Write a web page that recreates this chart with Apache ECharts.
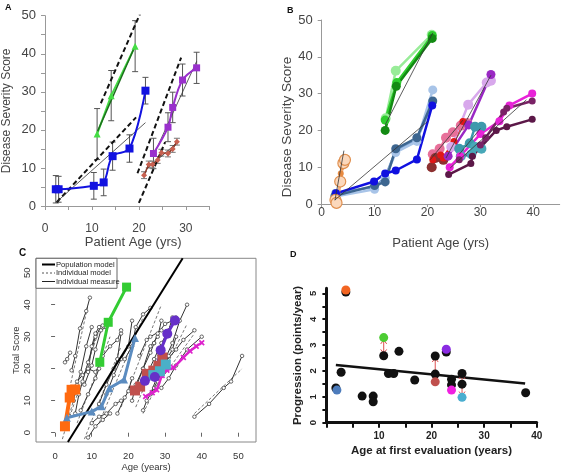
<!DOCTYPE html>
<html><head><meta charset="utf-8">
<script src="https://cdn.jsdelivr.net/npm/echarts@6/dist/echarts.min.js"></script>
<style>html,body{margin:0;padding:0;background:#fff}#c{width:563px;height:473px}</style>
</head><body><div id="c"></div><script>
// ---------- Panel A data ----------
const aBlue = [[2.3,4.4],[2.9,4.4],[10.4,5.3],[12.5,6.2],[14.4,13.1],[18.0,15.1],[21.4,30.3]];
const aBlueErr = [3.6,3.4,3.5,3.5,3.7,3.6,3.5];
const aGreen = [[11.1,18.9],[14.1,29.0],[19.2,42.0]];
const aGreenErr = [6.7,6.6,6.7];
const aPurple = [[23.1,13.8],[26.2,20.7],[27.2,25.9],[29.3,33.1],[32.3,36.3]];
const aPurpleErr = [4.0,3.8,4.0,4.2,4.1];
const aBrown = [[21.1,8.1],[22.1,10.9],[22.9,10.9],[24.0,12.1],[24.8,14.0],[26.2,13.8],[27.2,15.0],[28.1,16.9]];
const aBrownErr = [0.9,0.9,0.9,0.9,0.9,0.9,0.9,0.9];
const aPopModel = [[[2.5,1.0],[19.4,23.3]],[[11.9,27.0],[20.6,51.5]],[[19.7,8.6],[29.0,39.0]],[[20.0,0.8],[25.6,16.8]]];
const aFitLines = [[[2.5,1.1],[21.4,21.9]],[[23.0,13.0],[32.3,38.0]],[[21.5,9.5],[28.0,16.5]]];
const aGreenFit = [[11.2,19.6],[19.0,41.5]];
const aXTicks = [0,10,20,30];
const aYTicks = [0,10,20,30,40,50];

// ---------- Panel B data ----------
const bPeach = [[2.6,1.1],[2.8,0.3],[3.5,6.1],[4.1,11.1],[4.4,12.0]];
const bOrange = [[3.1,0.6],[3.6,8.3],[3.9,10.1],[4.4,12.0]];
const bBlue = [[2.7,2.9],[9.9,6.1],[12.0,8.3],[14.0,9.1],[18.0,12.1],[20.9,26.8]];
const bSteel = [[2.5,2.2],[10.0,5.0],[12.0,6.0],[14.0,15.0],[18.0,18.0],[21.0,28.0]];
const bLightBlue = [[2.5,2.0],[10.0,4.0],[12.0,7.0],[14.0,14.0],[18.0,17.0],[21.0,31.0]];
const bMidBlue = [[2.6,3.0],[10.0,4.6],[12.0,7.2],[14.0,14.5],[18.0,17.5],[21.0,27.8]];
const bGreenDark = [[12.0,20.0],[14.1,32.0],[20.9,45.0]];
const bGreenLight = [[12.1,23.3],[14.0,36.2],[20.8,46.0]];
const bGreen = [[12.0,22.8],[14.2,33.0],[20.9,45.8]];
const bRed = [[21.0,12.0],[22.5,13.3],[23.0,12.5],[25.0,17.0],[26.7,22.4]];
const bBrownRed = [[20.8,10.0],[21.5,12.5],[23.0,12.0]];
const bPink = [[21.0,13.5],[22.3,15.0],[23.5,18.0],[24.8,19.5],[26.3,21.3],[27.5,22.0]];
const bLilac = [[24.5,15.5],[27.7,27.0],[31.2,33.0],[32.0,33.5]];
const bPurple = [[23.9,13.0],[27.8,21.5],[32.0,35.2]];
const bMagenta = [[24.2,10.0],[26.2,13.0],[30.0,19.0],[33.6,22.5],[35.5,26.8],[39.8,30.0]];
const bPlum1 = [[24.0,8.0],[28.2,11.0],[28.5,13.0],[33.0,20.0],[35.0,21.0],[39.8,23.0]];
const bPlum2 = [[26.0,12.0],[30.0,16.0],[31.0,18.0],[34.4,25.0],[35.0,26.0],[39.8,28.0]];
const bTeal1 = [[26.0,15.0],[28.0,16.5],[29.0,21.0],[30.2,21.0]];
const bTeal2 = [[26.3,13.0],[28.3,13.5],[29.0,15.5],[30.2,15.0]];
const bFitLines = [[[2.5,1.0],[4.2,14.5]],[[2.5,1.1],[20.0,22.4]],[[12.0,21.5],[21.0,46.5]],[[20.5,12.0],[26.7,22.8]],[[23.5,12.5],[32.0,35.0]],[[24.3,9.8],[38.7,28.3]],[[26.0,13.5],[30.0,20.5]]];
const bXTicks = [0,10,20,30,40];
const bYTicks = [0,10,20,30,40,50];

// ---------- Panel C data ----------
const cIndividual = [
  [[2.7,22],[3.3,23],[4.1,25]],
  [[4.5,19.5],[5.5,24],[6.8,32.6],[8.5,38],[9.5,42.2]],
  [[5,10],[6,15],[7,19],[8.5,27],[10,33]],
  [[5.5,6],[6.5,12],[7.5,16],[9,22],[11,30],[12.5,33]],
  [[6,16],[7.5,18],[9,20],[11,19],[12.5,22]],
  [[7,7],[9,12],[11,17],[12,20]],
  [[8,15],[10,21],[11,26],[12.5,32],[14,33]],
  [[9,19],[10,27],[11,31],[12,33],[13,33.5]],
  [[10,3],[12,5],[14,6],[16.5,9],[18,10]],
  [[9,-1.5],[11,2],[13,4],[15,6]],
  [[12,9],[14,15],[16,20],[17,23],[18,31]],
  [[13,24],[15,27],[17,29],[18,32]],
  [[14,12],[16,18],[18,23],[20,27],[21,35]],
  [[17,6],[19,11],[20,13],[21,17]],
  [[19,23],[21,27],[22,33],[24,37],[26,39]],
  [[21,10],[22,15],[24,20],[26,25],[27,28]],
  [[22,14],[24,20],[26,27],[28,30],[29,35]],
  [[24,7],[25,10],[27,14],[29,19],[31,24]],
  [[25,18],[27,23],[29,28],[31,32],[32,36]],
  [[26,12],[28,18],[30,22],[32,26],[33,30]],
  [[27,28],[28,31],[30,34],[32,35],[33,36]],
  [[28,16],[30,23],[32,28],[34,35],[36,40]],
  [[30,22],[33,26],[35,29],[38,32]],
  [[29,14],[31,17],[33,21],[36,26],[40,30]],
  [[23,24],[25,29],[26,30],[29,32]],
  [[38,5],[42,9],[46,14],[48,16],[51,24]]
];
const cModels = [[[4,14],[9,40]],[[4,5],[12,32]],[[6,3],[15,30]],[[8,-2],[18,27]],[[12,3],[24,36]],[[18,8],[29,40]],[[22,8],[32,35]],[[24,6],[36,34]],[[26,12],[38,31]],[[38,6],[51,20]],[[2,-2],[6,14]]];
const cPopulation = [[3.5,-2.9],[34.8,54.5]];
const cOrange = [[2.7,2.0],[4.0,11.0],[4.5,13.4],[5.5,13.5]];
const cGreen = [[12.2,22.0],[14.5,34.5],[19.5,45.5]];
const cBlue = [[3.2,4.7],[10.0,6.6],[12.7,8.3],[14.8,13.9],[18.8,16.6],[21.8,29.6]];
const cBrown = [[21.8,13.2],[23.2,14.4],[25.0,18.4],[26.8,19.4],[28.2,20.9],[29.3,23.5]];
const cPurple = [[24.5,16.2],[27.2,17.4],[28.8,25.8],[30.6,30.9],[32.7,35.1]];
const cTeal = [[26.8,18.0],[28.6,19.2],[30.2,21.3]];
const cMagenta = [[24.7,11.3],[26.5,12.5],[27.7,13.4],[29.2,17.9],[30.5,19.5],[32.3,20.4],[35.0,23.5],[36.8,25.5],[38.5,27.0],[40.0,28.1]];
const cTicks = [0,10,20,30,40,50];
const cLegend = ['Population model','Individual model','Individual measure'];

// ---------- Panel D data ----------
const dBlack = [[1.8,1.34],[2.8,1.95],[3.7,5.05],[6.8,1.03],[8.9,1.03],[8.9,0.81],[10.9,2.59],[11.8,1.9],[12.8,1.9],[13.8,2.76],[16.8,1.65],[20.7,2.58],[20.7,1.88],[22.8,2.73],[23.8,1.68],[23.8,1.46],[25.8,1.9],[25.8,1.49],[37.9,1.16]];
const dBlue = [[2.0,1.26]];
const dOrange = [[3.7,5.13]];
const dGreen = [[10.9,3.29]];
const dBrown = [[20.7,1.58]];
const dPurple = [[22.8,2.84]];
const dMagenta = [[23.8,1.26]];
const dTeal = [[25.8,0.98]];
const dTrend = [[1.8,2.23],[37.8,1.52]];
const dArrows = [[10.9,3.2,2.68],[20.7,2.5,1.65],[23.8,1.62,1.35],[25.8,1.85,1.05]];
const dXTicks = [10,20,30,40];
const dYTicks = [0,1,2,3,4,5];

// ---------- build ----------
const FONT = 'Liberation Sans';
function range(a,b,s){const r=[];for(let v=a;v<=b+1e-9;v+=s)r.push(+v.toFixed(3));return r;}
function ln(data, g, color, extra){
  return Object.assign({type:'line', xAxisIndex:g, yAxisIndex:g, data:data, symbol:'none', silent:true, animation:false,
    lineStyle:{color:color,width:1}, itemStyle:{color:color}}, extra||{});
}
function errBars(points, errs, g, color){
  return {type:'custom', xAxisIndex:g, yAxisIndex:g, silent:true, animation:false, z:1,
    data: points.map((p,i)=>[p[0],p[1]-errs[i],p[1]+errs[i]]),
    encode:{x:0,y:[1,2]},
    renderItem:(params, api)=>{
      const lo=api.coord([api.value(0),api.value(1)]);
      const hi=api.coord([api.value(0),api.value(2)]);
      const w=3, st={stroke:color,lineWidth:1};
      return {type:'group',children:[
        {type:'line',shape:{x1:lo[0],y1:lo[1],x2:hi[0],y2:hi[1]},style:st},
        {type:'line',shape:{x1:lo[0]-w,y1:lo[1],x2:lo[0]+w,y2:lo[1]},style:st},
        {type:'line',shape:{x1:hi[0]-w,y1:hi[1],x2:hi[0]+w,y2:hi[1]},style:st}]};
    }};
}
function arrows(data, g, color){
  return {type:'custom', xAxisIndex:g, yAxisIndex:g, silent:true, animation:false, z:3,
    data:data, encode:{x:0,y:[1,2]},
    renderItem:(params, api)=>{
      const a=api.coord([api.value(0),api.value(1)]);
      const b=api.coord([api.value(0),api.value(2)]);
      const st={stroke:color,lineWidth:1,fill:null}, h=3, v=4;
      return {type:'group',children:[
        {type:'line',shape:{x1:a[0],y1:a[1],x2:b[0],y2:b[1]},style:st},
        {type:'polyline',shape:{points:[[a[0]-h,a[1]+v],[a[0],a[1]],[a[0]+h,a[1]+v]]},style:st},
        {type:'polyline',shape:{points:[[b[0]-h,b[1]-v],[b[0],b[1]],[b[0]+h,b[1]-v]]},style:st}]};
    }};
}
const series = [];
// Panel A
aPopModel.forEach(s=>series.push(ln(s,0,'#111',{lineStyle:{color:'#111',width:2,type:[5,3]},z:2})));
aFitLines.forEach(s=>series.push(ln(s,0,'#222',{lineStyle:{color:'#333',width:0.8},z:2})));
series.push(errBars(aBlue,aBlueErr,0,'#555'));
series.push(errBars(aGreen,aGreenErr,0,'#555'));
series.push(errBars(aPurple,aPurpleErr,0,'#555'));
series.push(errBars(aBrown,aBrownErr,0,'#777'));
series.push(ln(aGreen,0,'#44dd44',{symbol:'triangle',symbolSize:7,lineStyle:{color:'#44dd44',width:2},z:3}));
series.push(ln(aGreenFit,0,'#1d6e1d',{lineStyle:{color:'#1d6e1d',width:1.5},z:3}));
series.push(ln(aBlue,0,'#1212e0',{symbol:'rect',symbolSize:8,smooth:0.35,lineStyle:{color:'#1212e0',width:2},z:3}));
series.push(ln(aPurple,0,'#9930cc',{symbol:'rect',symbolSize:7,smooth:0.35,lineStyle:{color:'#9930cc',width:2},z:3}));
series.push(ln(aBrown,0,'#c86050',{symbol:'diamond',symbolSize:6,lineStyle:{color:'#8a3a2a',width:1.5},z:3}));
// Panel B
const bStyle = [
  [bMidBlue,'#7098c8',8],[bLightBlue,'#a8c4e8',9],[bSteel,'#3d6690',9],[bBlue,'#1010e0',8],
  [bGreenLight,'#98ec98',10],[bGreen,'#2ecc2e',9],[bGreenDark,'#138a13',9],
  [bPink,'#e8709a',10],[bBrownRed,'#8c3030',10],[bRed,'#e01818',7],
  [bLilac,'#d8a8ec',10],[bPurple,'#9a28c4',9],
  [bTeal1,'#3d9aac',10],[bTeal2,'#48a8b8',10],
  [bMagenta,'#e822d8',8],[bPlum2,'#7a2266',7],[bPlum1,'#5c1848',7],
  [bOrange,'#e88a40',6]
];
bStyle.forEach(([d,c,s])=>series.push(ln(d,1,c,{symbol:'circle',symbolSize:s,lineStyle:{color:c,width:2.5},z:3})));
series.push(ln(bPeach,1,'#e8a070',{symbol:'circle',symbolSize:11,itemStyle:{color:'#fbd8bc',borderColor:'#e09050',borderWidth:1.2},lineStyle:{color:'#f0b080',width:2.5},z:3}));
bFitLines.forEach(s=>series.push(ln(s,1,'#222',{lineStyle:{color:'#333',width:0.8},z:4})));
// Panel C
cModels.forEach(s=>series.push(ln(s,2,'#777',{lineStyle:{color:'#777',width:1,type:[3,2]},z:2})));
cIndividual.forEach(s=>series.push(ln(s,2,'#333',{symbol:'circle',symbolSize:3.5,itemStyle:{color:'#fff',borderColor:'#444',borderWidth:0.8},lineStyle:{color:'#333',width:1},z:2})));
series.push(ln(cPopulation,2,'#000',{lineStyle:{color:'#000',width:2},z:3}));
const XMARK='path://M2,0L5,3L8,0L10,2L7,5L10,8L8,10L5,7L2,10L0,8L3,5L0,2Z';
series.push(ln(cMagenta,2,'#dd22cc',{symbol:XMARK,symbolSize:6,smooth:0.4,lineStyle:{color:'#dd22cc',width:2.5},z:4}));
series.push(ln(cBrown,2,'#c0504d',{symbol:'rect',symbolSize:10,lineStyle:{color:'#c0504d',width:3},z:4}));
series.push(ln(cTeal,2,'#4ab0c8',{symbol:'rect',symbolSize:10,lineStyle:{color:'#4ab0c8',width:3},z:4}));
series.push(ln(cPurple,2,'#6630c8',{symbol:'circle',symbolSize:10,lineStyle:{color:'#6630c8',width:3},z:4}));
series.push(ln(cBlue,2,'#5b8cc0',{symbol:'triangle',symbolSize:8,lineStyle:{color:'#5b8cc0',width:3},z:4}));
series.push(ln(cGreen,2,'#33cc33',{symbol:'rect',symbolSize:9,lineStyle:{color:'#33cc33',width:3},z:4}));
series.push(ln(cOrange,2,'#ff6a10',{symbol:'rect',symbolSize:10,lineStyle:{color:'#ff6a10',width:4},z:4}));
// Panel D
series.push(ln(dTrend,3,'#111',{lineStyle:{color:'#111',width:2.5},z:2}));
const sc=(d,c,z)=>({type:'scatter',xAxisIndex:3,yAxisIndex:3,data:d,symbolSize:9,itemStyle:{color:c,opacity:1},silent:true,animation:false,z:z});
series.push(sc(dBlack,'#111',3));
[[dBlue,'#4d7cbc'],[dOrange,'#f26522'],[dGreen,'#4ccc33'],[dBrown,'#c0504d'],[dPurple,'#8a2be2'],[dMagenta,'#f020e0'],[dTeal,'#4aaed0']].forEach(([d,c])=>series.push(sc(d,c,4)));
series.push(arrows(dArrows,3,'#e05050'));

const grayAxis = {lineStyle:{color:'#999',width:1}};
const option = {
  animation:false,
  textStyle:{fontFamily:FONT},
  grid:[
    {left:39.3, top:15.7, width:170, height:190.3},
    {left:321.7, top:20, width:238, height:184},
    {left:36, top:258.3, width:220, height:188.4, show:true, borderColor:'#888', borderWidth:1},
    {left:326.4, top:288.2, width:210.3, height:134.5}
  ],
  xAxis:[
    {gridIndex:0,type:'value',min:0,max:35,splitLine:{show:false},axisLine:{show:true,...grayAxis},
     axisTick:{show:true,customValues:range(0,35,5),length:4,lineStyle:{color:'#999'}},
     axisLabel:{customValues:aXTicks,margin:17,fontSize:12,color:'#444',fontFamily:FONT},
     name:'Patient Age (yrs)',nameLocation:'middle',nameGap:27,nameTextStyle:{fontSize:13,color:'#444',fontFamily:FONT,padding:[0,0,0,12]}},
    {gridIndex:1,type:'value',min:0,max:45,splitLine:{show:false},axisLine:{show:true,...grayAxis},
     axisTick:{show:true,customValues:range(0,45,10),length:3,lineStyle:{color:'#999'}},
     axisLabel:{customValues:bXTicks,margin:3,fontSize:12,color:'#444',fontFamily:FONT},
     name:'Patient Age (yrs)',nameLocation:'middle',nameGap:33,nameTextStyle:{fontSize:13,color:'#444',fontFamily:FONT}},
    {gridIndex:2,type:'value',min:-5.2,max:54.8,splitLine:{show:false},axisLine:{show:false},
     axisTick:{show:true,customValues:cTicks,length:4,lineStyle:{color:'#666'}},
     axisLabel:{customValues:cTicks,margin:9,fontSize:9.5,color:'#333',fontFamily:FONT},
     name:'Age (years)',nameLocation:'middle',nameGap:20,nameTextStyle:{fontSize:9.5,color:'#333',fontFamily:FONT}},
    {gridIndex:3,type:'value',min:0,max:40,splitLine:{show:false},axisLine:{show:true,lineStyle:{color:'#111',width:3}},
     axisTick:{show:true,customValues:range(0,40,5),length:5,lineStyle:{color:'#111',width:2}},
     axisLabel:{customValues:dXTicks,margin:9,fontSize:10,fontWeight:'bold',color:'#222',fontFamily:FONT},
     name:'Age at first evaluation (years)',nameLocation:'middle',nameGap:22,nameTextStyle:{fontSize:11.5,fontWeight:'bold',color:'#222',fontFamily:FONT}}
  ],
  yAxis:[
    {gridIndex:0,type:'value',min:0,max:50,splitLine:{show:false},axisLine:{show:true,...grayAxis},
     axisTick:{show:true,customValues:range(0,50,5),length:4,lineStyle:{color:'#999'}},
     axisLabel:{customValues:aYTicks,margin:9,fontSize:13,color:'#444',fontFamily:FONT},
     name:'Disease Severity Score',nameLocation:'middle',nameGap:32,nameTextStyle:{fontSize:12,color:'#444',fontFamily:FONT}},
    {gridIndex:1,type:'value',min:0,max:50,splitLine:{show:false},axisLine:{show:true,...grayAxis},
     axisTick:{show:true,customValues:range(0,50,10),length:4,lineStyle:{color:'#999'}},
     axisLabel:{customValues:bYTicks,margin:9,fontSize:13,color:'#444',fontFamily:FONT},
     name:'Disease Severity Score',nameLocation:'middle',nameGap:27,nameTextStyle:{fontSize:13.5,color:'#444',fontFamily:FONT,padding:[0,30,0,0]}},
    {gridIndex:2,type:'value',min:-2.9,max:54.5,splitLine:{show:false},axisLine:{show:false},
     axisTick:{show:true,customValues:cTicks,length:4,lineStyle:{color:'#666'}},
     axisLabel:{customValues:cTicks,margin:4,rotate:90,fontSize:9.5,color:'#333',fontFamily:FONT},
     name:'Total Score',nameLocation:'middle',nameGap:14,nameTextStyle:{fontSize:9.5,color:'#333',fontFamily:FONT}},
    {gridIndex:3,type:'value',min:0,max:5.2,splitLine:{show:false},axisLine:{show:true,lineStyle:{color:'#111',width:3}},
     axisTick:{show:true,customValues:range(0,5,0.5),length:4,lineStyle:{color:'#111',width:2}},
     axisLabel:{customValues:dYTicks,margin:8,rotate:90,fontSize:9.5,fontWeight:'bold',color:'#222',fontFamily:FONT},
     name:'Progression (points/year)',nameLocation:'middle',nameGap:23,nameTextStyle:{fontSize:11.5,fontWeight:'bold',color:'#222',fontFamily:FONT}}
  ],
  graphic:[
    {type:'text',left:5,top:3,style:{text:'A',font:'bold 9px '+FONT,fill:'#111'}},
    {type:'text',left:287,top:6,style:{text:'B',font:'bold 9px '+FONT,fill:'#111'}},
    {type:'text',left:19,top:248,style:{text:'C',font:'bold 10px '+FONT,fill:'#111'}},
    {type:'text',left:290,top:250,style:{text:'D',font:'bold 9px '+FONT,fill:'#111'}},
    {type:'rect',shape:{x:36,y:258.3,width:81,height:30},style:{fill:'#fff',stroke:'#666',lineWidth:1},z:100},
    {type:'line',shape:{x1:42,y1:264.5,x2:55,y2:264.5},style:{stroke:'#000',lineWidth:2},z:101},
    {type:'line',shape:{x1:42,y1:273,x2:55,y2:273},style:{stroke:'#555',lineWidth:1,lineDash:[2,2]},z:101},
    {type:'line',shape:{x1:42,y1:281.5,x2:55,y2:281.5},style:{stroke:'#222',lineWidth:1},z:101},
    {type:'text',x:56,y:264.5,style:{text:cLegend[0],font:'7.6px '+FONT,fill:'#222',verticalAlign:'middle'},z:101},
    {type:'text',x:56,y:273,style:{text:cLegend[1],font:'7.6px '+FONT,fill:'#222',verticalAlign:'middle'},z:101},
    {type:'text',x:56,y:281.5,style:{text:cLegend[2],font:'7.6px '+FONT,fill:'#222',verticalAlign:'middle'},z:101}
  ],
  series:series
};
const chart = echarts.init(document.getElementById('c'),null,{renderer:'canvas'});
chart.setOption(option);
</script></body></html>
